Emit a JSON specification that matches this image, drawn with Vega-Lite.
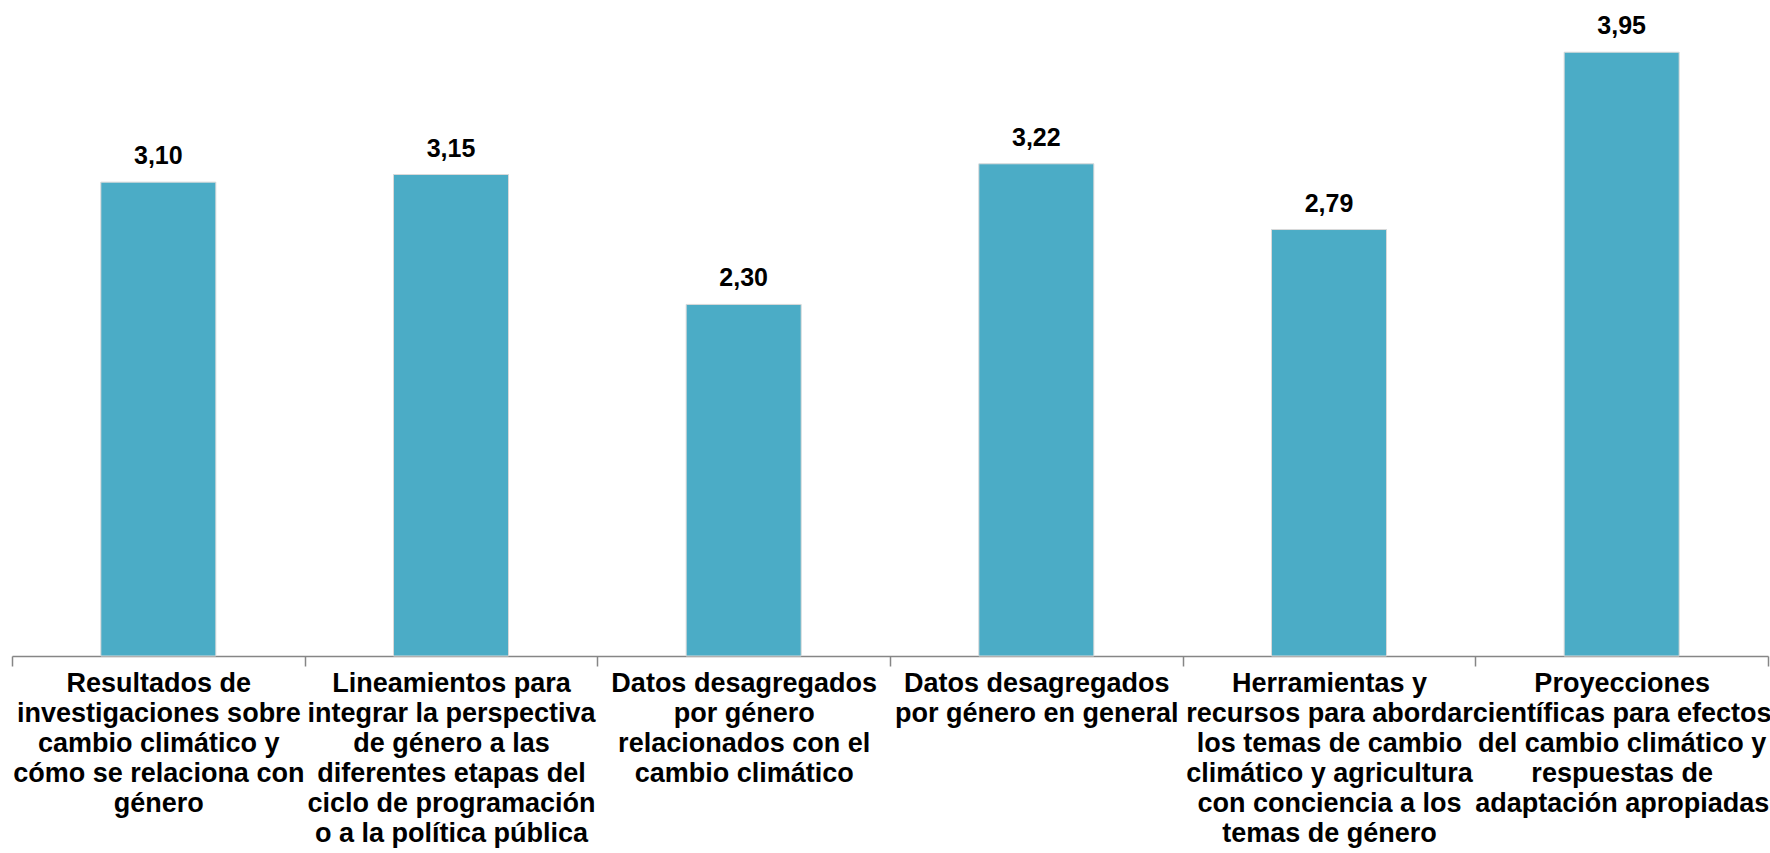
{
  "$schema": "https://vega.github.io/schema/vega-lite/v6.json",
  "width": 1756,
  "height": 642,
  "autosize": {"type": "none"},
  "padding": {"left": 12, "top": 14, "right": 2, "bottom": 197},
  "config": {
    "view": {"stroke": null},
    "font": "Liberation Sans",
    "locale": {"number": {"decimal": ",", "thousands": ".", "grouping": [3], "currency": ["", " €"]}}
  },
  "data": {
    "values": [
      {"categoria": "Resultados de\ninvestigaciones sobre\ncambio climático y\ncómo se relaciona con\ngénero", "valor": 3.10},
      {"categoria": "Lineamientos para\nintegrar la perspectiva\nde género a las\ndiferentes etapas del\nciclo de programación\no a la política pública", "valor": 3.15},
      {"categoria": "Datos desagregados\npor género\nrelacionados con el\ncambio climático", "valor": 2.30},
      {"categoria": "Datos desagregados\npor género en general", "valor": 3.22},
      {"categoria": "Herramientas y\nrecursos para abordar\nlos temas de cambio\nclimático y agricultura\ncon conciencia a los\ntemas de género", "valor": 2.79},
      {"categoria": "Proyecciones\ncientíficas para efectos\ndel cambio climático y\nrespuestas de\nadaptación apropiadas", "valor": 3.95}
    ]
  },
  "encoding": {
    "x": {
      "field": "categoria",
      "type": "nominal",
      "sort": null,
      "scale": {"paddingInner": 0, "paddingOuter": 0},
      "axis": {
        "title": null,
        "labelAngle": 0,
        "labelExpr": "datum.value ? split(datum.value, '\\n') : ''",
        "labelFont": "Liberation Sans",
        "labelFontSize": 27,
        "labelFontWeight": "bold",
        "labelColor": "#000000",
        "labelLineHeight": 30,
        "labelBaseline": "top",
        "labelPadding": 4,
        "labelLimit": 0,
        "labelOverlap": false,
        "labelBound": false,
        "tickBand": "extent",
        "tickSize": 10,
        "tickColor": "#868686",
        "tickWidth": 1.5,
        "domainColor": "#868686",
        "domainWidth": 1.5,
        "grid": false
      }
    },
    "y": {
      "field": "valor",
      "type": "quantitative",
      "scale": {"domain": [0, 4.2], "nice": false},
      "axis": null
    }
  },
  "layer": [
    {
      "mark": {"type": "bar", "color": "#4BACC6", "stroke": "#d9d9d9", "strokeWidth": 1, "width": {"band": 0.393}}
    },
    {
      "mark": {"type": "text", "baseline": "alphabetic", "dy": -18, "fontSize": 25, "fontWeight": "bold", "font": "Liberation Sans", "color": "#000000"},
      "encoding": {"text": {"field": "valor", "type": "quantitative", "format": ".2f"}}
    }
  ]
}
